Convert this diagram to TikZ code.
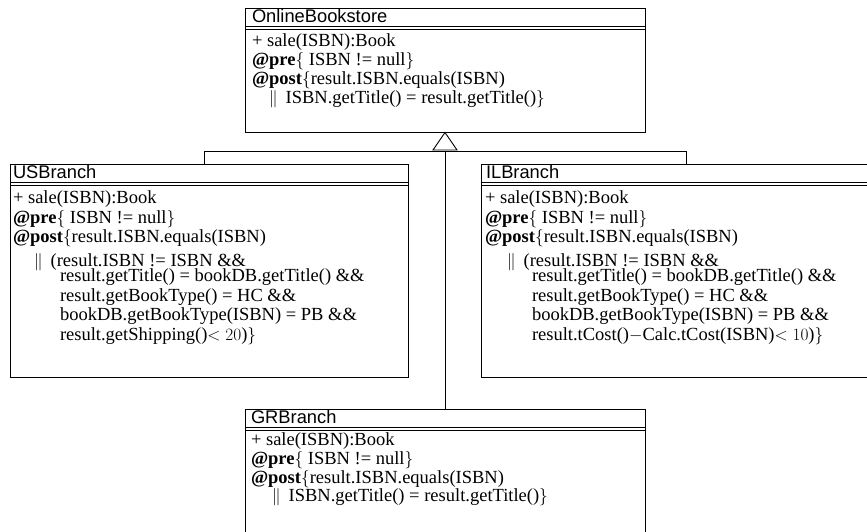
\documentclass[tikz,border=0pt]{standalone}
\usepackage[no-math]{fontspec}
\setmainfont{Liberation Serif}
\newfontfamily\titlefont{Liberation Sans}
\usetikzlibrary{calc}
\newcommand{\bodysize}{\fontsize{18.5pt}{20pt}\selectfont}
\newcommand{\ttlsize}{\titlefont\fontsize{18.3pt}{20pt}\selectfont}
\begin{document}
\begin{tikzpicture}[x=1pt,y=-1pt,
  box/.style={draw, line width=0.9pt, inner sep=0pt, outer sep=0pt, anchor=north west},
  txt/.style={anchor=base west, inner sep=0pt, outer sep=0pt, font=\bodysize},
  ttl/.style={anchor=base west, inner sep=0pt, outer sep=0pt, font=\ttlsize},
  ln/.style={line width=0.9pt}]
\useasboundingbox (0,0) rectangle (867,531);
\clip (0,0) rectangle (867,531);
% boxes
\node[box, minimum width=400pt, minimum height=124.5pt] (ob) at (245,8) {};
\node[box, minimum width=398pt, minimum height=213pt] (us) at (10,164) {};
\node[box, minimum width=410pt, minimum height=213pt] (il) at (481,164) {};
\node[box, minimum width=400pt, minimum height=160pt] (gr) at (245,409) {};
% double lines under titles
\foreach \b in {ob,us,il,gr}{
  \draw[ln] ($(\b.north west)+(0,18)$) -- ($(\b.north east)+(0,18)$);
  \draw[ln] ($(\b.north west)+(0,21)$) -- ($(\b.north east)+(0,21)$);
}
% OnlineBookstore
\node[ttl] (obT) at ($(ob.north west)+(7,14)$) {OnlineBookstore};
\node[txt] (ob1) at ($(ob.north west)+(7,38.5)$) {+ sale(ISBN):Book};
\node[txt] (ob2) at ($(ob.north west)+(7,57.5)$) {\textbf{@pre}$\{$ ISBN != null$\}$};
\node[txt] (ob3) at ($(ob.north west)+(7,76.5)$) {\textbf{@post}$\{$result.ISBN.equals(ISBN)};
\node[txt] (ob4) at ($(ob.north west)+(24,95)$) {$\|$\hspace{8pt}ISBN.getTitle() = result.getTitle()$\}$};
% USBranch
\node[ttl] (usT) at ($(us.north west)+(3,14)$) {USBranch};
\node[txt] (us1) at ($(us.north west)+(3,39.3)$) {+ sale(ISBN):Book};
\node[txt] (us2) at ($(us.north west)+(3,59)$) {\textbf{@pre}$\{$ ISBN != null$\}$};
\node[txt] (us3) at ($(us.north west)+(3,78.5)$) {\textbf{@post}$\{$result.ISBN.equals(ISBN)};
\node[txt] (us4) at ($(us.north west)+(24,102)$) {$\|$\hspace{8pt}(result.ISBN != ISBN \&\&};
\node[txt] (us5) at ($(us.north west)+(50,117.7)$) {result.getTitle() = bookDB.getTitle() \&\&};
\node[txt] (us6) at ($(us.north west)+(50,137.3)$) {result.getBookType() = HC \&\&};
\node[txt] (us7) at ($(us.north west)+(50,156.7)$) {bookDB.getBookType(ISBN) = PB \&\&};
\node[txt] (us8) at ($(us.north west)+(50,176)$) {result.getShipping()$<20$)$\}$};
% ILBranch
\node[ttl] (ilT) at ($(il.north west)+(5,14)$) {ILBranch};
\node[txt] (il1) at ($(il.north west)+(4,39.3)$) {+ sale(ISBN):Book};
\node[txt] (il2) at ($(il.north west)+(4,59)$) {\textbf{@pre}$\{$ ISBN != null$\}$};
\node[txt] (il3) at ($(il.north west)+(4,78.5)$) {\textbf{@post}$\{$result.ISBN.equals(ISBN)};
\node[txt] (il4) at ($(il.north west)+(26,102)$) {$\|$\hspace{8pt}(result.ISBN != ISBN \&\&};
\node[txt] (il5) at ($(il.north west)+(51,117.7)$) {result.getTitle() = bookDB.getTitle() \&\&};
\node[txt] (il6) at ($(il.north west)+(51,137.3)$) {result.getBookType() = HC \&\&};
\node[txt] (il7) at ($(il.north west)+(51,156.7)$) {bookDB.getBookType(ISBN) = PB \&\&};
\node[txt] (il8) at ($(il.north west)+(51,176)$) {result.tCost()$-$Calc.tCost(ISBN)$<10$)$\}$};
% GRBranch
\node[ttl] (grT) at ($(gr.north west)+(6,14)$) {GRBranch};
\node[txt] (gr1) at ($(gr.north west)+(6,36.5)$) {+ sale(ISBN):Book};
\node[txt] (gr2) at ($(gr.north west)+(6,55.5)$) {\textbf{@pre}$\{$ ISBN != null$\}$};
\node[txt] (gr3) at ($(gr.north west)+(6,74)$) {\textbf{@post}$\{$result.ISBN.equals(ISBN)};
\node[txt] (gr4) at ($(gr.north west)+(27,92.5)$) {$\|$\hspace{8pt}ISBN.getTitle() = result.getTitle()$\}$};
% connectors
\coordinate (junc) at ($(ob.south)+(0,19)$);
\coordinate (usTop) at ($(us.north west)+(194.5,0)$);
\coordinate (ilTop) at ($(il.north west)+(205,0)$);
\draw[ln] (usTop) |- (junc) -| (ilTop);
\draw[ln] (junc) -- (gr.north);
\draw[ln, fill=white] (ob.south) -- ($(ob.south)+(-12,17.5)$) -- ($(ob.south)+(12,17.5)$) -- cycle;
\end{tikzpicture}
\end{document}
